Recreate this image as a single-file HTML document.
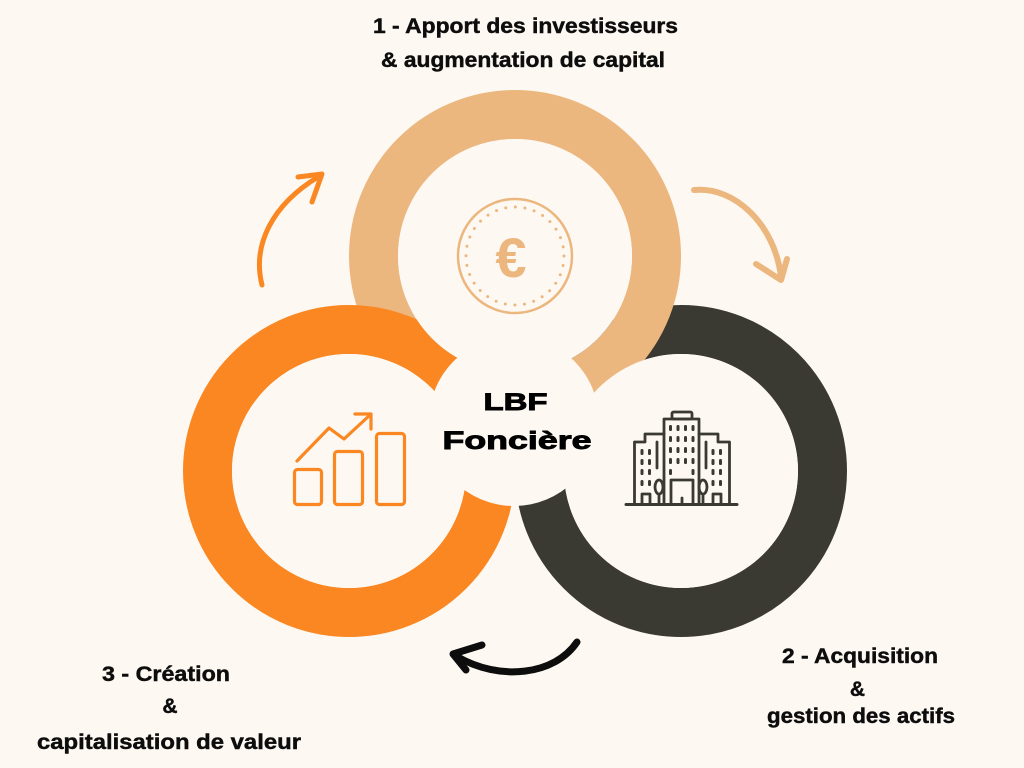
<!DOCTYPE html>
<html>
<head>
<meta charset="utf-8">
<style>
  html, body { margin: 0; padding: 0; background: #fdf8f2; }
  body { width: 1024px; height: 768px; overflow: hidden; }
  svg { display: block; }
  .lbl { font-family: "Liberation Sans", "DejaVu Sans", sans-serif; font-weight: bold; fill: #0d0d0d; stroke: #0d0d0d; stroke-width: 0.45; }
  .ctr { font-family: "Liberation Sans", "DejaVu Sans", sans-serif; font-weight: bold; fill: #000; stroke: #000; stroke-width: 0.9; }
</style>
</head>
<body>
<svg width="1024" height="768" viewBox="0 0 1024 768" xmlns="http://www.w3.org/2000/svg">
  <rect x="0" y="0" width="1024" height="768" fill="#fdf8f2"/>

  <!-- Rings (annuli), cyclic overlap: dark < tan < orange -->
  <circle cx="681" cy="471" r="141.5" fill="none" stroke="#3b3a32" stroke-width="49"/>
  <circle cx="515" cy="256" r="141.5" fill="none" stroke="#ecb77e" stroke-width="49"/>
  <circle cx="349" cy="471" r="141.5" fill="none" stroke="#fa8722" stroke-width="49"/>

  <!-- Inner cream discs -->
  <circle cx="515" cy="256" r="117" fill="#fdf8f2"/>
  <circle cx="349" cy="471" r="117" fill="#fdf8f2"/>
  <circle cx="681" cy="471" r="117" fill="#fdf8f2"/>

  <!-- Center circle -->
  <circle cx="514" cy="421" r="85" fill="#fdf8f2"/>

  <!-- Center text -->
  <text class="ctr" x="515.5" y="410" font-size="24" text-anchor="middle" textLength="64" lengthAdjust="spacingAndGlyphs">LBF</text>
  <text class="ctr" x="517" y="449" font-size="25" text-anchor="middle" textLength="149" lengthAdjust="spacingAndGlyphs">Foncière</text>

  <!-- Euro coin -->
  <circle cx="515" cy="256" r="57" fill="none" stroke="#ecb77e" stroke-width="2.5"/>
  <circle cx="515" cy="256" r="49" fill="none" stroke="#ecb77e" stroke-width="3" stroke-linecap="round" stroke-dasharray="0 9.62"/>
  <text x="511" y="277" font-family="Liberation Sans, DejaVu Sans, sans-serif" font-weight="bold" font-size="56" fill="#ecb77e" text-anchor="middle">€</text>

  <!-- Chart icon (orange) -->
  <g fill="none" stroke="#fa8722" stroke-width="3.2" stroke-linecap="round" stroke-linejoin="round">
    <rect x="294.5" y="469.5" width="27" height="35" rx="3"/>
    <rect x="334.5" y="451.5" width="28" height="53" rx="3"/>
    <rect x="376.5" y="433.5" width="28" height="71" rx="3"/>
    <polyline points="297,461 329,428 344,439 370,415"/>
    <polyline points="355,414 371,414 371,429"/>
  </g>

  <!-- Building icon (dark) -->
  <g fill="none" stroke="#3b3a32" stroke-width="2.8" stroke-linecap="round" stroke-linejoin="round">
    <line x1="626" y1="504.5" x2="737" y2="504.5" stroke-width="3"/>
    <path d="M664,504 V419 H699 V504"/>
    <rect x="672" y="412" width="20" height="7" rx="1.5"/>
    <path d="M634.5,504 V442 H645 V434 H664"/>
    <path d="M657,442 V468"/>
    <path d="M729.5,504 V442 H718 V434 H699"/>
    <path d="M706,442 V468"/>
    <ellipse cx="659" cy="487" rx="4" ry="7"/>
    <line x1="659" y1="494" x2="659" y2="504"/>
    <ellipse cx="703" cy="487" rx="4" ry="7"/>
    <line x1="703" y1="494" x2="703" y2="504"/>
    <path d="M671,504 V480 H693 V504"/>
    <line x1="682" y1="498" x2="682" y2="504"/>
    <path d="M642,504 V494 H650 V504"/>
    <path d="M713,504 V494 H721 V504"/>
  </g>
  <g fill="#3b3a32">
    <rect x="669" y="425" width="3" height="6" rx="1.4"/><rect x="676.5" y="425" width="3" height="6" rx="1.4"/><rect x="684" y="425" width="3" height="6" rx="1.4"/><rect x="691.5" y="425" width="3" height="6" rx="1.4"/>
    <rect x="669" y="436" width="3" height="6" rx="1.4"/><rect x="676.5" y="436" width="3" height="6" rx="1.4"/><rect x="684" y="436" width="3" height="6" rx="1.4"/><rect x="691.5" y="436" width="3" height="6" rx="1.4"/>
    <rect x="669" y="447" width="3" height="6" rx="1.4"/><rect x="676.5" y="447" width="3" height="6" rx="1.4"/><rect x="684" y="447" width="3" height="6" rx="1.4"/><rect x="691.5" y="447" width="3" height="6" rx="1.4"/>
    <rect x="669" y="458" width="3" height="6" rx="1.4"/><rect x="676.5" y="458" width="3" height="6" rx="1.4"/><rect x="684" y="458" width="3" height="6" rx="1.4"/><rect x="691.5" y="458" width="3" height="6" rx="1.4"/>
    <rect x="669" y="469" width="3" height="6" rx="1.4"/><rect x="691.5" y="469" width="3" height="6" rx="1.4"/>
    <rect x="640.5" y="449" width="3" height="6" rx="1.4"/><rect x="648" y="449" width="3" height="6" rx="1.4"/>
    <rect x="640.5" y="459" width="3" height="6" rx="1.4"/><rect x="648" y="459" width="3" height="6" rx="1.4"/>
    <rect x="640.5" y="469" width="3" height="6" rx="1.4"/><rect x="648" y="469" width="3" height="6" rx="1.4"/>
    <rect x="640.5" y="480" width="3" height="6" rx="1.4"/><rect x="648" y="480" width="3" height="6" rx="1.4"/>
    <rect x="711.5" y="449" width="3" height="6" rx="1.4"/><rect x="719" y="449" width="3" height="6" rx="1.4"/>
    <rect x="711.5" y="459" width="3" height="6" rx="1.4"/><rect x="719" y="459" width="3" height="6" rx="1.4"/>
    <rect x="711.5" y="469" width="3" height="6" rx="1.4"/><rect x="719" y="469" width="3" height="6" rx="1.4"/>
    <rect x="711.5" y="480" width="3" height="6" rx="1.4"/><rect x="719" y="480" width="3" height="6" rx="1.4"/>
  </g>

  <!-- Arrows -->
  <g fill="none" stroke-linecap="round" stroke-linejoin="round">
    <path d="M262,285 C252,245 272,205 318,177" stroke="#fa8722" stroke-width="5"/>
    <path d="M298,177 L322,174 L312,202" stroke="#fa8722" stroke-width="5"/>
    <path d="M694,190 C735,186 775,225 781,277" stroke="#ecb77e" stroke-width="6"/>
    <path d="M756,264 L781,280 L787,259" stroke="#ecb77e" stroke-width="6"/>
    <path d="M577,642 C555,675 500,682 456,656" stroke="#0d0d0d" stroke-width="7"/>
    <path d="M482,645 L453,654 L466,670" stroke="#0d0d0d" stroke-width="7"/>
  </g>

  <!-- Labels -->
  <text class="lbl" x="525.5" y="33" font-size="21" text-anchor="middle" textLength="305" lengthAdjust="spacingAndGlyphs">1 - Apport des investisseurs</text>
  <text class="lbl" x="523" y="67" font-size="21" text-anchor="middle" textLength="284" lengthAdjust="spacingAndGlyphs">&amp; augmentation de capital</text>

  <text class="lbl" x="860" y="663" font-size="21" text-anchor="middle" textLength="156" lengthAdjust="spacingAndGlyphs">2 - Acquisition</text>
  <text class="lbl" x="857.5" y="696" font-size="21" text-anchor="middle">&amp;</text>
  <text class="lbl" x="861" y="723" font-size="21" text-anchor="middle" textLength="188" lengthAdjust="spacingAndGlyphs">gestion des actifs</text>

  <text class="lbl" x="166" y="681" font-size="21" text-anchor="middle" textLength="128" lengthAdjust="spacingAndGlyphs">3 - Création</text>
  <text class="lbl" x="170" y="713" font-size="21" text-anchor="middle">&amp;</text>
  <text class="lbl" x="169" y="749" font-size="21" text-anchor="middle" textLength="264" lengthAdjust="spacingAndGlyphs">capitalisation de valeur</text>
</svg>
</body>
</html>
